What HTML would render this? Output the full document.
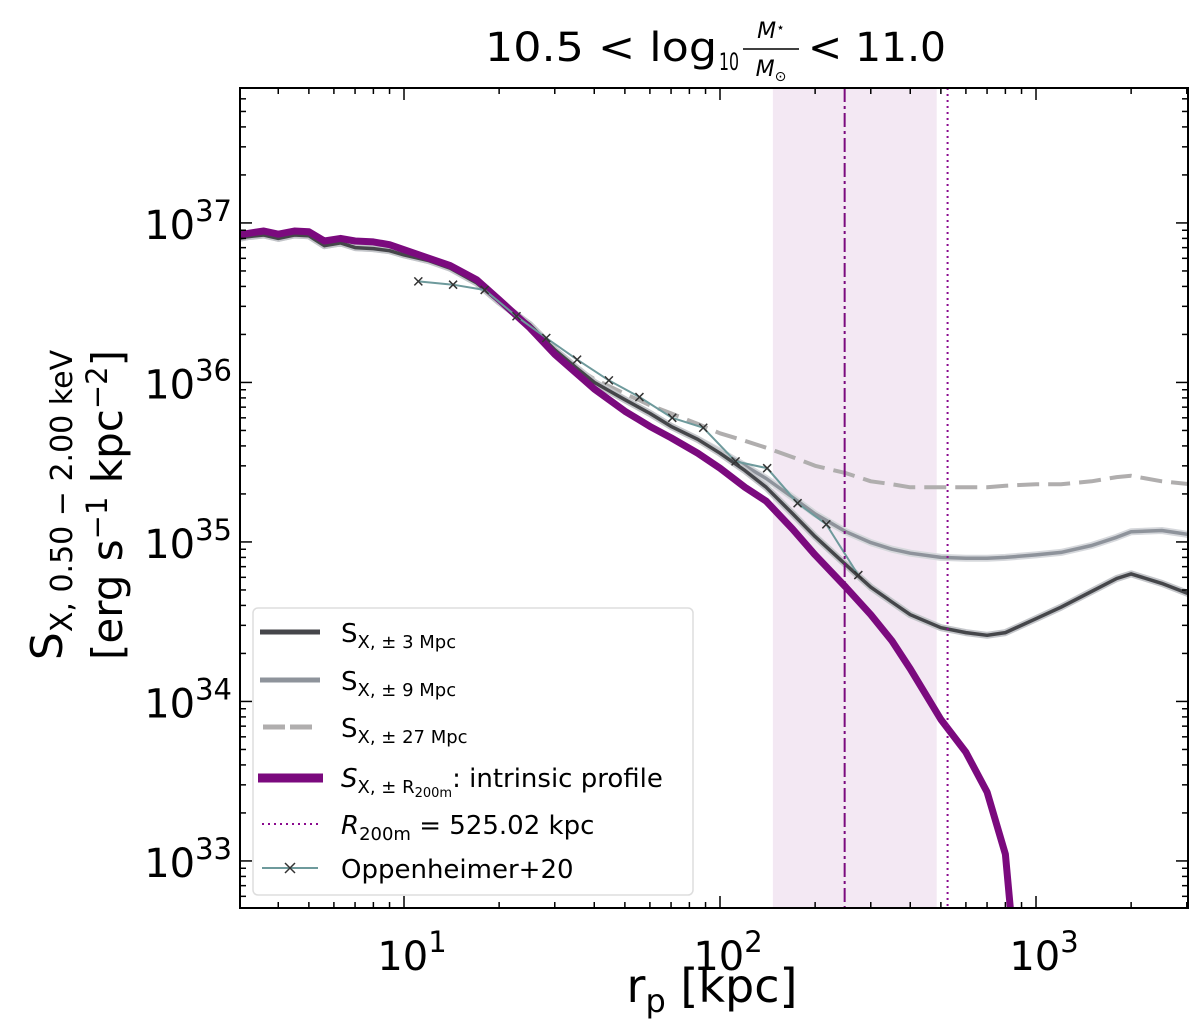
<!DOCTYPE html>
<html><head><meta charset="utf-8"><style>
html,body{margin:0;padding:0;background:#fff;}
svg{display:block;font-family:"DejaVu Sans","Liberation Sans",sans-serif;}
</style></head><body>
<svg id="chart" width="1200" height="1034" viewBox="0 0 1200 1034" xmlns="http://www.w3.org/2000/svg">
<g id="plot"></g>
</svg>
<script>
const radii = [3.0,3.2,3.6,4,4.5,5,5.6,6.3,7,8,9,10,12,14,17,20,25,30,35,40,50,60,70,85,100,120,140,170,200,250,300,350,400,500,600,700,800];
const intrinsic = [8.4e36,8.6e36,8.9e36,8.5e36,8.9e36,8.8e36,7.7e36,8.0e36,7.7e36,7.6e36,7.3e36,6.8e36,6.0e36,5.4e36,4.4e36,3.3e36,2.2e36,1.5e36,1.15e36,9.1e35,6.6e35,5.3e35,4.5e35,3.6e35,2.9e35,2.2e35,1.8e35,1.2e35,8.3e34,5.2e34,3.5e34,2.4e34,1.6e34,7.7e33,4.8e33,2.7e33,1.1e33];
const intrinsicTailR = [830];
const intrinsicTailS = [5e32];
const radiiFull = [3.0,3.2,3.6,4,4.5,5,5.6,6.3,7,8,9,10,12,14,17,20,25,30,35,40,50,60,70,85,100,120,140,170,200,250,300,350,400,500,600,700,800,1000,1200,1500,1800,2000,2500,3070];
const sx3 = [8.0e36,8.2e36,8.4e36,8.0e36,8.4e36,8.3e36,7.2e36,7.5e36,7.0e36,6.9e36,6.7e36,6.3e36,5.8e36,5.2e36,4.2e36,3.2e36,2.3e36,1.6e36,1.24e36,1.0e36,7.8e35,6.4e35,5.3e35,4.4e35,3.6e35,2.8e35,2.2e35,1.5e35,1.08e35,7.2e34,5.2e34,4.2e34,3.5e34,2.9e34,2.7e34,2.6e34,2.7e34,3.3e34,3.9e34,4.9e34,5.9e34,6.3e34,5.5e34,4.7e34];
const sx9 = [8.0e36,8.2e36,8.4e36,8.0e36,8.4e36,8.3e36,7.2e36,7.5e36,7.0e36,6.9e36,6.7e36,6.3e36,5.8e36,5.2e36,4.2e36,3.2e36,2.3e36,1.6e36,1.24e36,1.0e36,7.8e35,6.4e35,5.3e35,4.4e35,3.7e35,3.0e35,2.5e35,1.9e35,1.5e35,1.16e35,9.9e34,9.0e34,8.5e34,8.0e34,7.9e34,7.9e34,8.0e34,8.3e34,8.6e34,9.5e34,1.07e35,1.16e35,1.18e35,1.11e35];
const radii27 = [25,30,35,40,50,60,70,85,100,120,140,170,200,250,300,350,400,500,600,700,800,1000,1200,1500,1800,2000,2500,3070];
const sx27 = [2.3e36,1.6e36,1.24e36,1.05e36,8.5e35,7.2e35,6.4e35,5.5e35,4.8e35,4.3e35,3.9e35,3.4e35,3.0e35,2.7e35,2.4e35,2.3e35,2.2e35,2.2e35,2.2e35,2.2e35,2.25e35,2.3e35,2.3e35,2.4e35,2.55e35,2.6e35,2.4e35,2.3e35];
const obsR = [11.1,14.3,18.0,22.7,28.2,35.3,44.5,55.6,70.6,88.5,112,141,176,217,274];
const obsS = [4.3e36,4.1e36,3.8e36,2.6e36,1.9e36,1.39e36,1.03e36,8.1e35,6.0e35,5.2e35,3.2e35,2.9e35,1.75e35,1.29e35,6.2e34];
const bandLo = 147, bandHi = 485, r200Line = 248, r200m = 525.02;
const xTicks = [1,2,3];
const yTicks = [33,34,35,36,37];

const L=240,R=1188,T=88,B=908;
const lxMin=0.481,lxMax=3.481,lyMin=32.705,lyMax=37.846;
const X=r=>L+(Math.log10(r)-lxMin)/(lxMax-lxMin)*(R-L);
const Y=s=>B-(Math.log10(s)-lyMin)/(lyMax-lyMin)*(B-T);
const NS='http://www.w3.org/2000/svg';
const g=document.getElementById('plot');
function mk(tag,attrs,parent){const e=document.createElementNS(NS,tag);for(const k in attrs)e.setAttribute(k,attrs[k]);(parent||g).appendChild(e);return e;}
function pts(rs,ss){return rs.map((r,i)=>X(r).toFixed(1)+','+Y(ss[i]).toFixed(1)).join(' ');}

const defs=mk('defs',{});
const cp=mk('clipPath',{id:'clip'},defs);mk('rect',{x:L,y:T,width:R-L,height:B-T},cp);
const pg=mk('g',{'clip-path':'url(#clip)'});

let e=mk('rect',{x:X(bandLo),y:T,width:X(bandHi)-X(bandLo),height:B-T,fill:'#f3e8f3'},pg);



e=mk('polyline',{points:pts(radiiFull,sx9),fill:'none',stroke:'#d6d8dc',"stroke-width":7,"stroke-linejoin":'round'},pg);


e=mk('polyline',{points:pts(radiiFull,sx9),fill:'none',stroke:'#8e939b',"stroke-width":3.5,"stroke-linejoin":'round'},pg);


e=mk('polyline',{points:pts(radii27,sx27),fill:'none',stroke:'#b0aeae',"stroke-width":4,"stroke-dasharray":'22,9',"stroke-linejoin":'round'},pg);


e=mk('polyline',{points:pts(radiiFull,sx3),fill:'none',stroke:'#c4c6ca',"stroke-width":7,"stroke-linejoin":'round'},pg);


e=mk('polyline',{points:pts(radiiFull,sx3),fill:'none',stroke:'#45464a',"stroke-width":3.5,"stroke-linejoin":'round'},pg);


e=mk('polyline',{points:pts(radii.concat(intrinsicTailR),intrinsic.concat(intrinsicTailS)),fill:'none',stroke:'#7b0a7e',"stroke-width":7,"stroke-linejoin":'round'},pg);



e=mk('polyline',{points:pts(obsR,obsS),fill:'none',stroke:'#6e9a9c',"stroke-width":2},pg);


obsR.forEach((r,i)=>{const x=X(r),y=Y(obsS[i]);
 const m=mk('path',{d:`M${x-4},${y-4}L${x+4},${y+4}M${x-4},${y+4}L${x+4},${y-4}`,stroke:'#333',"stroke-width":1.5},pg);
 
 
});

e=mk('line',{x1:X(r200Line),x2:X(r200Line),y1:T,y2:B,stroke:'#7b0a7e',"stroke-width":2,"stroke-dasharray":'14,4,3,4'},pg);


e=mk('line',{x1:X(r200m),x2:X(r200m),y1:T,y2:B,stroke:'#8a0a8e',"stroke-width":2,"stroke-dasharray":'2,4'},pg);



e=mk('rect',{x:L,y:T,width:R-L,height:B-T,fill:'none',stroke:'#000',"stroke-width":2});



for(let d=0;d<=3;d++)for(let m=1;m<10;m++){const r=m*Math.pow(10,d);const x=X(r);if(x<L||x>R)continue;const len=m===1?12:6;
 mk('line',{x1:x,x2:x,y1:B,y2:B-len,stroke:'#000',"stroke-width":1.5});
 mk('line',{x1:x,x2:x,y1:T,y2:T+len,stroke:'#000',"stroke-width":1.5});}
for(let d=32;d<=37;d++)for(let m=1;m<10;m++){const s=m*Math.pow(10,d);const y=Y(s);if(y<T||y>B)continue;const len=m===1?12:6;
 mk('line',{x1:L,x2:L+len,y1:y,y2:y,stroke:'#000',"stroke-width":1.5});
 mk('line',{x1:R,x2:R-len,y1:y,y2:y,stroke:'#000',"stroke-width":1.5});}
xTicks.forEach(p=>{const t=mk('text',{x:X(Math.pow(10,p))+8,y:B+62,"font-size":40,"text-anchor":'middle'});
 t.innerHTML=`10<tspan dy="-18" font-size="29">${p}</tspan>`;
 
 });
yTicks.forEach(p=>{const t=mk('text',{x:232,y:Y(Math.pow(10,p))+16,"font-size":40,"text-anchor":'end'});
 t.innerHTML=`10<tspan dy="-18" font-size="29">${p}</tspan>`;
 
 });
</script>
<svg style="position:absolute;left:0;top:0" width="1200" height="1034" xmlns="http://www.w3.org/2000/svg" font-family="DejaVu Sans, Liberation Sans, sans-serif">
<g>
<text x="485" y="61" font-size="40" textLength="232" lengthAdjust="spacingAndGlyphs">10.5 &lt; log</text>
<text x="719" y="70" font-size="24" textLength="20" lengthAdjust="spacingAndGlyphs">10</text>
<text x="771" y="38" font-size="22" font-style="italic" text-anchor="middle">M<tspan font-size="14" dy="-6">⋆</tspan></text>
<line x1="743" x2="799" y1="49" y2="49" stroke="#000" stroke-width="1.5"/>
<text x="771" y="76" font-size="22" font-style="italic" text-anchor="middle">M<tspan font-size="14" dy="5">⊙</tspan></text>
<text x="808" y="61" font-size="40" textLength="138" lengthAdjust="spacingAndGlyphs">&lt; 11.0</text>
</g>
<text x="712" y="1002" font-size="46" text-anchor="middle">r<tspan font-size="32" dy="10">p</tspan><tspan dy="-10"> [kpc]</tspan></text>
<g transform="translate(62,505) rotate(-90)">
<text x="0" y="0" font-size="44" text-anchor="middle">S<tspan font-size="30" dy="10">X, 0.50 − 2.00 keV</tspan></text>
<text x="0" y="60" font-size="42" text-anchor="middle">[erg s<tspan font-size="29" dy="-15">−1</tspan><tspan dy="15"> kpc</tspan><tspan font-size="29" dy="-15">−2</tspan><tspan dy="15">]</tspan></text>
</g>
<g>
<rect x="253" y="608" width="440" height="287" rx="5" fill="#fff" fill-opacity="0.9" stroke="#ddd" stroke-width="1.5"/>
<line x1="260" x2="320" y1="632" y2="632" stroke="#45464a" stroke-width="5"/>
<text x="341" y="642" font-size="26">S<tspan font-size="18" dy="6">X, ± 3 Mpc</tspan></text>
<line x1="260" x2="320" y1="680" y2="680" stroke="#8e939b" stroke-width="5"/>
<text x="341" y="690" font-size="26">S<tspan font-size="18" dy="6">X, ± 9 Mpc</tspan></text>
<line x1="263" x2="316" y1="727" y2="727" stroke="#b0aeae" stroke-width="5" stroke-dasharray="22,5"/>
<text x="341" y="737" font-size="26">S<tspan font-size="18" dy="6">X, ± 27 Mpc</tspan></text>
<line x1="258" x2="323" y1="778" y2="778" stroke="#7b0a7e" stroke-width="9"/>
<text x="341" y="787" font-size="26"><tspan font-style="italic">S</tspan><tspan font-size="18" dy="6">X, ± R</tspan><tspan font-size="13" dy="4">200m</tspan><tspan dy="-10">: intrinsic profile</tspan></text>
<line x1="262" x2="318" y1="824" y2="824" stroke="#8a0a8e" stroke-width="2" stroke-dasharray="2,4"/>
<text x="341" y="834" font-size="26"><tspan font-style="italic">R</tspan><tspan font-size="18" dy="6">200m</tspan><tspan dy="-6"> = 525.02 kpc</tspan></text>
<line x1="262" x2="318" y1="868" y2="868" stroke="#6e9a9c" stroke-width="2"/>
<path d="M285,863L295,873M285,873L295,863" stroke="#333" stroke-width="1.5"/>
<text x="341" y="878" font-size="26">Oppenheimer+20</text>
</g>
</svg>
</body></html>
